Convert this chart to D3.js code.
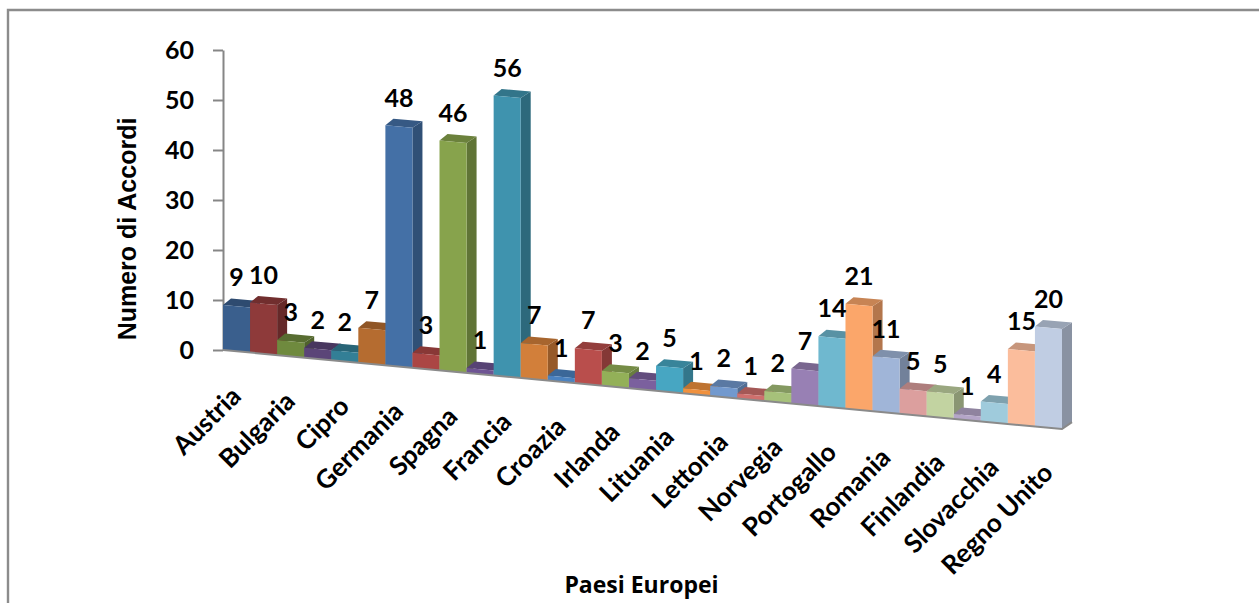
<!DOCTYPE html>
<html><head><meta charset="utf-8">
<script src="https://cdn.jsdelivr.net/npm/d3@7/dist/d3.min.js"></script>
<style>html,body{margin:0;padding:0;background:#fff;overflow:hidden}svg{display:block}
text{font-family:Lato,"Open Sans",sans-serif;font-weight:700;fill:#000}</style>
</head><body><svg id="c" width="1259" height="603"></svg>
<script>
const categories=["Austria","Bulgaria","Cipro","Germania","Spagna","Francia","Croazia","Irlanda","Lituania","Lettonia","Norvegia","Portogallo","Romania","Finlandia","Slovacchia","Regno Unito"];
const values=[9,10,3,2,2,7,48,3,46,1,56,7,1,7,3,2,5,1,2,1,2,7,14,21,11,5,5,1,4,15,20];
const yTicks=[0,10,20,30,40,50,60];
const barColors=["#3a5f8d","#8e3a3a","#6f8a3e","#5b4578","#337f96","#b56c30","#4470a6","#ab4644","#87a34c","#6e5493","#3f93ae","#d27f3a","#4a82c0","#b94e4c","#93b058","#7b609e","#47a6c2","#f0913e","#7299ce","#cf6f6d","#a6c17a","#9880b4","#6fb8cf","#fba66a","#a0b5d8","#dc9f9e","#c2d3a1","#b4a5c8","#9fcbdc","#fbbd9c","#c0cde3"];

const svg=d3.select("#c");
const x=d3.scaleBand().domain(d3.range(values.length)).range([223,1062]).padding(0);
const y=d3.scaleLinear().domain([0,60]).range([350,50]);
const slope=79/838;
const floor=px=>(px-223)*slope;
const dx0=8,dx1=10,dz=6.5;

svg.append("path").attr("d","M8 603V10H1259").attr("fill","none").attr("stroke","#8c8c8c").attr("stroke-width",2.4);

const yAxis=d3.axisLeft(y).tickValues(yTicks).tickSize(10).tickPadding(19).tickSizeOuter(0);
const ga=svg.append("g").attr("transform","translate(223,0)").call(yAxis);
ga.select(".domain").attr("stroke","#868686").attr("stroke-width",2);
ga.selectAll(".tick line").attr("stroke","#868686").attr("stroke-width",2);
ga.selectAll("text").style("font-size","25px");

const g=svg.append("g");
values.forEach((v,i)=>{
  const x0=x(i),x1=x0+x.bandwidth();
  const b0=y(0)+floor(x0),b1=y(0)+floor(x1);
  const h=y(0)-y(v);
  const c=d3.color(barColors[i]);
  const side=c.darker(0.95), top=c.darker(0.65);
  g.append("path").attr("fill",side).attr("d",`M${x1} ${b1-h}L${x1+dx1} ${b1-h-dz}V${b1-dz}L${x1} ${b1}Z`);
  g.append("path").attr("fill",top).attr("d",`M${x0} ${b0-h}L${x0+dx0} ${b0-h-dz}L${x1+dx1} ${b1-h-dz}L${x1} ${b1-h}Z`);
  g.append("path").attr("fill",c).attr("d",`M${x0} ${b0}V${b0-h}L${x1} ${b1-h}V${b1}Z`);
});
const xe=x.range()[1];
g.append("path").attr("fill","none").attr("stroke","#8a8a8a").attr("stroke-width",2)
 .attr("d",`M223 ${y(0)}L${xe} ${y(0)+floor(xe)}L${xe+10} ${y(0)+floor(xe)-7}`);

svg.append("g").selectAll("text").data(values).join("text")
 .attr("text-anchor","middle").attr("dominant-baseline","central").style("font-size","25px")
 .attr("x",(d,i)=>x(i)+x.bandwidth()/2)
 .attr("y",(d,i)=>y(d)+floor(x(i)+x.bandwidth()/2)-30)
 .text(d=>d);

svg.append("g").selectAll("text").data(categories).join("text")
 .attr("text-anchor","end").style("font-size","26px")
 .attr("transform",(d,i)=>{const px=x(i*2)+x.bandwidth()/2+6;return `translate(${px},${y(0)+floor(px)+46}) rotate(-45)`;})
 .text(d=>d);

svg.append("text").attr("transform","translate(136,229) rotate(-90)").attr("text-anchor","middle")
 .style("font-family","'Liberation Sans',Arial,sans-serif").style("font-size","25px").text("Numero di Accordi");
svg.append("text").attr("x",641.5).attr("y",593).attr("text-anchor","middle")
 .style("font-family","'Open Sans',Lato,sans-serif").style("font-size","23px").text("Paesi Europei");
</script></body></html>
